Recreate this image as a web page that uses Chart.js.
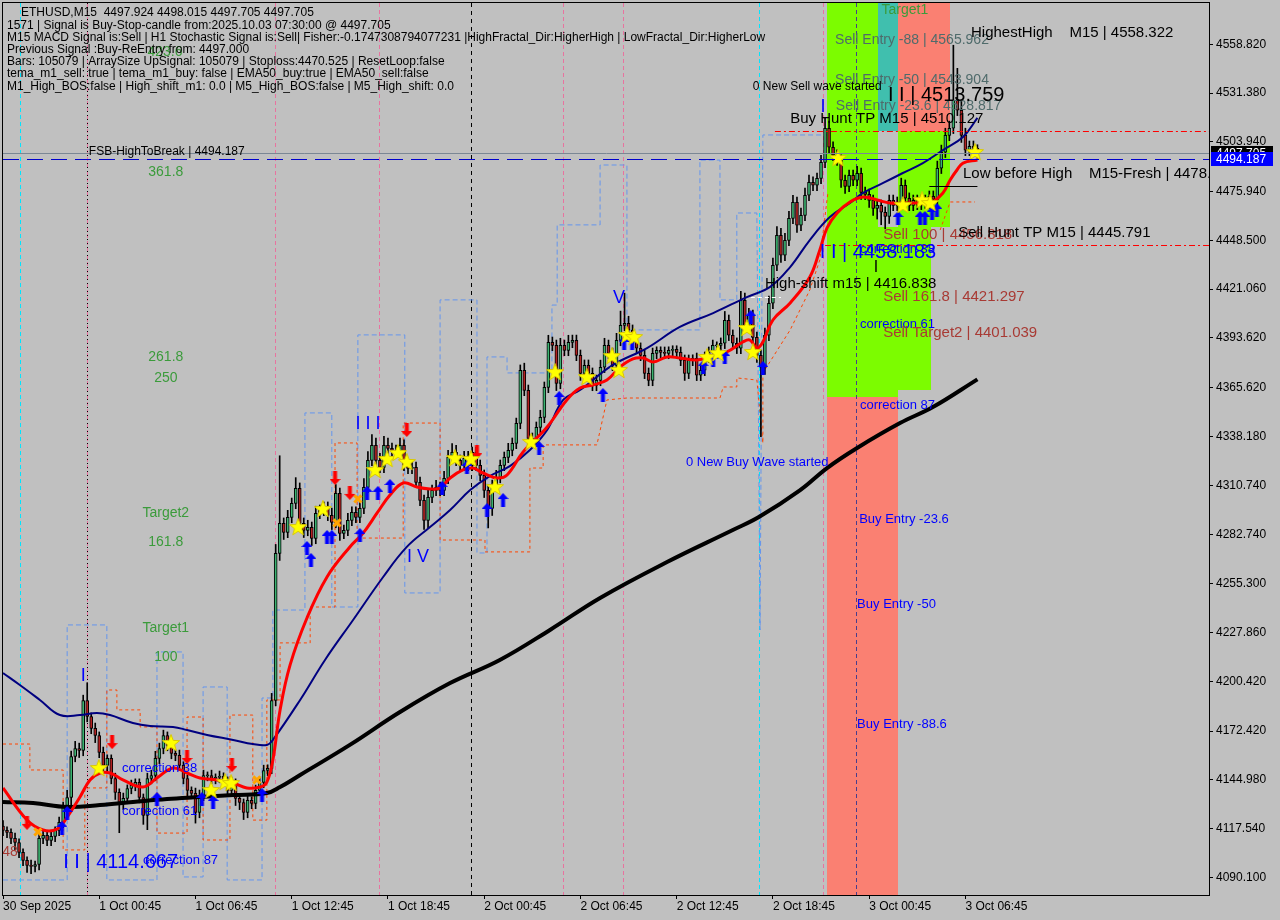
<!DOCTYPE html>
<html>
<head>
<meta charset="utf-8">
<title>ETHUSD,M15</title>
<script src="https://cdn.jsdelivr.net/npm/chart.js@4.4.1/dist/chart.umd.min.js"></script>
<style>
  html, body { margin: 0; padding: 0; background: #c0c0c0; }
  #wrap { width: 1280px; height: 920px; }
</style>
</head>
<body>
<div id="wrap"><canvas id="chart" width="1280" height="920"></canvas></div>
<script>
// ETHUSD M15 candles, index 0 = 30 Sep 18:45, one bar per 15 minutes
const firstOpen = 4119.0;
const closes = [
  4116.5, 4115.4, 4112.0, 4109.7, 4104.1, 4099.6, 4096.8, 4096.2, 4097.3, 4112.0,
  4113.7, 4110.9, 4113.1, 4116.5, 4121.0, 4130.5, 4135.0, 4158.1, 4162.6, 4161.5,
  4189.6, 4180.6, 4173.9, 4169.9, 4160.4, 4153.1, 4157.0, 4145.7, 4137.9, 4132.2,
  4134.5, 4140.1, 4141.8, 4143.5, 4135.0, 4124.9, 4145.7, 4147.4, 4157.0, 4162.6,
  4169.9, 4164.3, 4159.8, 4158.7, 4153.1, 4145.7, 4139.0, 4137.3, 4126.6, 4136.2,
  4147.4, 4147.4, 4145.7, 4146.3, 4146.9, 4144.6, 4139.0, 4143.5, 4134.5, 4132.2,
  4126.6, 4133.4, 4131.7, 4139.0, 4143.5, 4150.2, 4151.4, 4189.6, 4272.4, 4289.3,
  4284.2, 4292.6, 4300.5, 4309.0, 4289.3, 4285.3, 4287.0, 4280.8, 4294.9, 4296.6,
  4298.3, 4293.8, 4289.8, 4306.1, 4283.6, 4285.3, 4290.9, 4295.5, 4292.6, 4297.7,
  4309.5, 4324.7, 4333.2, 4324.7, 4320.8, 4333.2, 4331.5, 4330.3, 4329.2, 4333.2,
  4321.9, 4320.2, 4320.8, 4312.3, 4302.2, 4290.9, 4303.9, 4307.8, 4309.5, 4307.8,
  4314.6, 4326.4, 4329.2, 4324.7, 4321.9, 4325.8, 4321.9, 4329.2, 4321.9, 4316.3,
  4307.8, 4297.7, 4310.6, 4315.1, 4321.9, 4326.4, 4330.3, 4334.3, 4345.5, 4375.4,
  4364.1, 4337.1, 4336.0, 4343.3, 4348.9, 4365.8, 4391.1, 4389.4, 4368.0, 4389.4,
  4386.6, 4391.1, 4392.2, 4383.8, 4373.7, 4378.2, 4373.7, 4366.9, 4369.7, 4377.1,
  4389.4, 4384.9, 4378.2, 4392.2, 4400.7, 4401.8, 4397.9, 4391.1, 4387.8, 4383.8,
  4373.7, 4369.7, 4384.9, 4386.6, 4385.5, 4384.9, 4386.6, 4387.2, 4385.5, 4381.0,
  4373.7, 4381.0, 4382.1, 4372.6, 4375.4, 4382.7, 4385.5, 4389.4, 4389.4, 4390.6,
  4403.5, 4395.1, 4390.6, 4387.8, 4414.8, 4400.7, 4406.3, 4393.9, 4383.8, 4377.1,
  4395.1, 4413.1, 4434.5, 4451.3, 4440.1, 4448.5, 4460.9, 4469.9, 4457.0, 4462.6,
  4473.9, 4481.2, 4479.5, 4483.4, 4492.4, 4511.6, 4500.9, 4496.4, 4493.6, 4482.3,
  4478.9, 4485.1, 4482.3, 4486.2, 4475.5, 4474.4, 4471.0, 4466.5, 4468.2, 4464.3,
  4462.0, 4471.0, 4468.2, 4469.9, 4479.5, 4472.2, 4468.2, 4471.0, 4468.8, 4471.0,
  4469.4, 4473.3, 4471.6, 4489.1, 4498.1, 4507.6, 4511.6, 4527.3, 4521.7, 4507.6,
  4499.2, 4501.4, 4500.3, 4497.705
];
// wick length above / below the body, in price units
const upperWick = [
  3,2,2,3,2,2,2,3,2,3, 3,2,3,2,3,2,4,3,4,3, 3,10,2,3,2,3,2,2,3,2, 3,2,3,2,2,2,3,3,4,3,
  3,2,2,2,3,2,2,2,3,3, 3,2,3,2,3,2,2,3,2,2, 2,3,2,3,3,3,2,4,5,38, 3,4,3,6,3,3,4,3,4,3,
  3,3,4,5,3,3,4,3,3,4, 5,5,6,4,4,5,4,3,3,4, 3,3,4,3,3,3,4,3,4,3, 4,4,5,4,3,4,4,3,3,3,
  3,3,3,4,3,3,4,3,3,3, 4,3,3,3,4,3,4,3,3,4, 3,4,3,3,3,3,3,3,3,4, 4,3,3,4,8,17,4,3,3,3,
  3,3,3,2,2,3,2,2,2,3, 3,3,2,3,3,3,3,3,2,3, 5,3,3,3,5,4,4,3,3,3, 4,4,4,5,4,4,4,4,3,4,
  4,4,3,3,4,6,4,3,3,3, 3,3,3,4,3,3,3,3,3,3, 3,3,3,3,4,3,3,3,3,3, 3,3,3,4,4,4,4,31,18,5,
  4,3,3,2
];
const lowerWick = [
  3,3,3,4,3,3,4,4,3,3, 3,3,3,3,3,3,3,4,3,4, 3,3,3,4,3,4,3,3,4,17, 4,3,3,3,3,5,8,3,3,3,
  3,3,3,3,3,3,4,3,6,3, 3,3,3,3,3,3,3,3,4,4, 4,3,3,3,3,3,3,3,3,4, 4,3,3,3,4,4,3,4,3,3,
  3,3,4,3,4,3,3,3,3,3, 3,3,3,3,3,3,3,3,3,3, 3,3,3,3,3,5,4,3,3,3, 3,3,3,3,3,3,3,3,3,3,
  4,11,4,3,3,3,3,3,3,3, 3,4,3,3,3,3,3,3,4,3, 3,3,3,3,4,3,3,3,3,3, 3,3,3,3,3,3,3,3,3,3,
  3,3,3,3,3,3,3,3,3,3, 4,3,3,3,3,3,3,3,3,3, 3,3,3,3,3,3,3,3,4,39, 4,3,3,3,4,3,3,3,4,3,
  3,3,3,3,3,3,3,3,3,4, 4,3,3,3,4,3,4,4,6,7, 7,4,3,3,3,4,3,3,3,3, 3,3,3,3,3,3,3,3,3,4,
  3,3,3,3
];

const timeTicks = [0, 24, 48, 72, 96, 120, 144, 168, 192, 216, 240];
const timeLabels = ['30 Sep 2025', '1 Oct 00:45', '1 Oct 06:45', '1 Oct 12:45', '1 Oct 18:45',
  '2 Oct 00:45', '2 Oct 06:45', '2 Oct 12:45', '2 Oct 18:45', '3 Oct 00:45', '3 Oct 06:45'];
const priceTicks = [4558.820, 4531.380, 4503.940, 4475.940, 4448.500, 4421.060, 4393.620, 4365.620,
  4338.180, 4310.740, 4282.740, 4255.300, 4227.860, 4200.420, 4172.420, 4144.980, 4117.540, 4090.100];

// indicator lines, [bar index, price]
const fastMa = [
  [0,4140.4],[6.0,4122.3],[10.0,4116.7],[13.5,4117.3],[16.0,4124.0],[19.2,4135.3],[21.7,4144.9],
  [24.2,4148.8],[26.7,4148.8],[29.9,4144.9],[34.9,4140.9],[38.4,4146.0],[42.4,4151.6],[45.9,4148.8],
  [49.1,4146.0],[53.4,4144.9],[57.4,4143.2],[60.8,4140.4],[64.1,4140.9],[65.8,4143.7],[67.3,4156.1],
  [69.1,4184.3],[71.6,4209.6],[75.8,4236.0],[80.8,4259.1],[86.5,4276.0],[89.8,4283.8],[93.3,4295.1],
  [96.5,4305.2],[99.8,4312.0],[103.2,4309.7],[106.5,4308.6],[109.0,4309.2],[111.5,4314.8],[114.7,4319.3],
  [117.2,4320.4],[119.7,4317.6],[123.2,4314.8],[125.7,4316.5],[129.7,4329.4],[135.7,4343.5],[140.6,4358.7],
  [143.9,4365.4],[147.1,4367.1],[150.6,4369.9],[153.9,4377.3],[157.1,4381.8],[159.6,4382.3],[162.1,4380.1],
  [165.6,4382.9],[168.8,4382.3],[173.1,4381.2],[177.1,4384.0],[180.5,4385.7],[184.5,4391.3],[186.3,4392.4],
  [188.0,4387.9],[189.5,4391.3],[192.0,4403.7],[196.3,4413.3],[201.2,4427.9],[203.7,4443.1],[205.5,4455.5],
  [208.0,4463.9],[211.2,4470.1],[214.5,4472.9],[218.0,4471.2],[221.2,4469.5],[224.4,4469.5],[227.9,4469.5],
  [231.2,4469.5],[234.4,4475.2],[236.2,4482.5],[237.9,4488.1],[239.4,4492.0],[243.0,4493.7]
];
const ema50 = [
  [0,4205.1],[4.2,4198.3],[9.2,4189.9],[14.2,4181.4],[19.2,4181.4],[23.4,4182.6],[26.7,4181.4],
  [32.4,4176.9],[36.7,4175.2],[42.4,4174.7],[45.9,4173.0],[50.9,4170.2],[57.4,4167.4],[62.3,4165.1],
  [65.8,4164.6],[67.3,4167.4],[74.1,4189.9],[80.3,4212.4],[87.3,4234.9],[94.8,4259.1],[100.7,4276.0],
  [106.5,4287.2],[111.5,4296.8],[116.5,4308.0],[121.4,4315.9],[126.4,4321.5],[131.4,4330.5],[135.7,4341.8],
  [139.7,4358.7],[143.9,4364.3],[152.1,4378.4],[160.6,4387.9],[168.8,4399.8],[177.1,4407.6],[185.5,4416.6],
  [191.3,4422.3],[196.3,4433.5],[201.2,4448.7],[206.2,4461.6],[211.2,4469.5],[214.5,4475.2],[219.5,4480.8],
  [224.4,4486.4],[229.4,4492.0],[234.4,4499.3],[239.4,4506.7],[243.0,4517.4]
];
const ema200 = [
  [0,4132.5],[7.5,4131.9],[16.0,4129.7],[24.2,4130.8],[32.4,4132.5],[40.9,4134.2],[49.1,4135.3],
  [57.4,4136.4],[65.8,4137.5],[69.1,4140.9],[74.1,4147.7],[86.5,4164.6],[99.0,4183.1],[111.5,4199.4],
  [123.9,4212.4],[136.4,4229.3],[148.9,4247.3],[165.6,4267.5],[182.0,4285.5],[188.5,4292.8],[198.8,4308.0],
  [205.5,4320.4],[213.0,4331.7],[223.7,4345.7],[231.9,4354.7],[243.0,4370.3]
];
const lowBand = [
  [0,4165.1],[6.7,4165.1],[6.7,4150.5],[15.0,4150.5],[15.0,4105.5],[20.4,4105.5],[20.4,4140.4],[25.9,4140.4],
  [25.9,4195.5],[28.4,4195.5],[28.4,4184.3],[34.2,4184.3],[34.2,4174.7],[38.4,4174.7],[38.4,4115.0],[45.9,4115.0],
  [45.9,4180.3],[49.9,4180.3],[49.9,4111.1],[56.6,4111.1],[56.6,4181.4],[62.3,4181.4],[62.3,4122.3],[65.8,4122.3],
  [65.8,4189.9],[69.1,4189.9],[69.1,4222.0],[76.6,4222.0],[76.6,4242.2],[82.8,4242.2],[82.8,4334.5],[88.3,4334.5],
  [88.3,4281.0],[99.8,4281.0],[99.8,4345.7],[109.0,4345.7],[109.0,4279.9],[120.2,4279.9],[120.2,4273.2],[131.4,4273.2],
  [131.4,4320.4],[134.7,4320.4],[134.7,4333.4],[148.1,4333.4],[150.6,4358.7],[155.6,4359.8],[178.8,4359.8],[179.6,4366.0],
  [183.0,4366.0],[183.0,4371.1],[188.0,4369.9],[189.5,4334.5],[189.5,4373.9],[196.3,4398.1],[201.2,4420.6],[203.7,4437.5],
  [205.7,4475.2],null,[233.7,4454.3],[236.2,4470.1],[242.4,4470.1]
];
const highBand = [
  [0,4088.6],[16.0,4088.6],[16.0,4232.1],[25.9,4232.1],[25.9,4088.6],[38.4,4088.6],[38.4,4216.9],[44.9,4216.9],
  [44.9,4090.3],[49.9,4090.3],[49.9,4197.2],[55.9,4197.2],[55.9,4088.6],[64.6,4088.6],[64.6,4191.0],[67.3,4191.0],
  [67.3,4240.5],[75.3,4240.5],[75.3,4351.4],[82.0,4351.4],[82.0,4242.2],[88.5,4242.2],[88.5,4395.3],[100.2,4395.3],
  [100.2,4250.1],[109.0,4250.1],[109.0,4415.0],[118.2,4415.0],[118.2,4272.6],[120.7,4272.6],[120.7,4382.9],[125.7,4382.9],
  [125.7,4373.9],[136.9,4373.9],[136.9,4412.1],[138.2,4412.1],[138.2,4457.2],[148.9,4457.2],[148.9,4490.9],[155.6,4490.9],
  [155.6,4398.1],[173.8,4398.1],[173.8,4493.7],[178.8,4493.7],[178.8,4415.0],[183.0,4415.0],[183.0,4463.9],[188.0,4463.9],
  [188.8,4229.3],[189.5,4507.8],[205.5,4507.8]
];

// signal markers, [bar index, price]
const starPoints = [
  [23.9,4151.6],[41.9,4165.7],[51.9,4139.2],[55.4,4143.7],[56.9,4143.2],[73.6,4287.2],[79.8,4297.4],
  [92.8,4319.3],[95.8,4325.5],[98.5,4328.9],[100.7,4323.8],[112.7,4326.0],[116.7,4325.5],[122.7,4309.7],
  [131.7,4335.1],[137.7,4374.4],[145.6,4371.6],[151.9,4383.4],[153.6,4375.6],[155.6,4395.3],[157.4,4394.1],
  [175.6,4382.9],[178.3,4385.1],[185.5,4399.2],[187.0,4385.7],[208.2,4494.8],[224.4,4468.4],[229.2,4471.2],
  [231.2,4469.5],[242.4,4498.2]
];
const buyArrows = [
  [14.7,4117.9],[16.0,4126.3],[38.4,4134.2],[49.6,4134.2],[52.4,4132.5],[64.6,4136.4],[75.8,4275.4],
  [76.8,4268.7],[80.8,4281.6],[82.0,4281.6],[89.0,4282.7],[90.8,4306.4],[93.5,4306.4],[96.5,4310.3],
  [109.5,4309.2],[115.7,4321.0],[120.7,4296.8],[124.7,4302.4],[133.7,4331.7],[138.7,4359.8],[149.6,4361.5],
  [154.9,4390.8],[156.9,4390.8],[174.6,4377.3],[177.1,4381.2],[180.0,4382.9],[186.5,4405.4],[189.5,4376.7],
  [223.2,4461.1],[228.7,4461.1],[229.9,4461.1],[231.7,4463.9],[232.9,4465.6]
];
const sellArrows = [
  [6.0,4120.7],[27.2,4166.2],[45.9,4157.8],[57.1,4153.3],[82.8,4314.8],[86.5,4306.4],[100.7,4341.8],[118.2,4329.4]
];
const crossPoints = [[8.7,4115.6],[63.3,4144.9],[83.3,4289.5],[88.5,4303.0]];

// zones: from bar, to bar, top price, bottom price
const zones = [
  [205.5, 218.2, 4600, 4360.4, '#7cfc00'],
  [218.2, 223.2, 4600, 4510.1, '#40bfae'],
  [223.2, 236.2, 4600, 4510.1, '#fa8072'],
  [223.2, 236.2, 4510.1, 4456.3, '#7cfc00'],
  [218.2, 231.4, 4456.3, 4364.3, '#7cfc00'],
  [218.2, 223.2, 4364.3, 4360.4, '#7cfc00'],
  [205.5, 223.2, 4360.4, 4000, '#fa8072']
];
const vLines = [
  [4.2, '#00e5ff', [4, 3]], [20.9, '#e8739f', [4, 3]], [20.9, '#000000', [1, 3]], [67.8, '#e8739f', [4, 3]],
  [93.8, '#e8739f', [4, 3]], [116.7, '#000000', [4, 4]], [139.7, '#e8739f', [4, 3]], [154.6, '#e8739f', [4, 3]],
  [188.5, '#00e5ff', [4, 3]], [204.5, '#e8739f', [4, 3]], [212.7, '#483d8b', [4, 3]]
];
// price, from bar, to bar, colour, dash
const hLines = [
  [4497.705, 0, 301, '#7b8794', []],
  [4494.187, 0, 301, '#0000cd', [16, 8]],
  [4510.127, 192.5, 301, '#ff0000', [6, 3, 2, 3]],
  [4445.791, 205, 301, '#ff0000', [6, 3, 2, 3]],
  [4416.838, 186.5, 194, '#ffffff', [4, 3]],
  [4479.1, 231, 243, '#000000', []]
];

const GREEN = '#3b9b3b', BLUE = '#0000ff', BROWN = '#a83a34', SLATE = '#4f6b6b', BLACK = '#000000';
// text, bar, price, colour, size, align
const chartTexts = [
  ['423.6', 40.4, 4554.5, GREEN, 14, 'center'],
  ['361.8', 40.6, 4487.0, GREEN, 14, 'center'],
  ['261.8', 40.6, 4382.9, GREEN, 14, 'center'],
  ['250', 40.6, 4371.1, GREEN, 14, 'center'],
  ['Target2', 40.6, 4295.1, GREEN, 14, 'center'],
  ['161.8', 40.6, 4278.8, GREEN, 14, 'center'],
  ['Target1', 40.6, 4230.4, GREEN, 14, 'center'],
  ['100', 40.6, 4214.1, GREEN, 14, 'center'],
  ['Target1', 224.9, 4578.1, GREEN, 14, 'center'],
  ['FSB-HighToBreak | 4494.187', 21.4, 4498.2, BLACK, 12, 'left'],
  ['Sell Entry -88 | 4565.962', 207.5, 4561.2, SLATE, 14, 'left'],
  ['Sell Entry -50 | 4543.904', 207.5, 4538.7, SLATE, 14, 'left'],
  ['Sell Entry -23.6 | 4528.817', 207.7, 4524.1, SLATE, 14, 'left'],
  ['HighestHigh    M15 | 4558.322', 241.4, 4565.2, BLACK, 15, 'left'],
  ['0 New Sell wave started', 187.0, 4534.8, BLACK, 12, 'left'],
  ['I I | 4513.759', 220.7, 4530.3, BLACK, 20, 'left'],
  ['Buy Hunt TP M15 | 4510.127', 196.3, 4516.8, BLACK, 15, 'left'],
  ['Low before High    M15-Fresh | 4478.917', 239.4, 4485.8, BLACK, 15, 'left'],
  ['Sell 100 | 4456.818', 219.5, 4451.5, BROWN, 15, 'left'],
  ['Sell Hunt TP M15 | 4445.791', 238.2, 4452.6, BLACK, 15, 'left'],
  ['correction 38', 213.7, 4443.6, BLUE, 13, 'left'],
  ['I I | 4458.183', 203.7, 4441.4, BLUE, 20, 'left'],
  ['High-shift m15 | 4416.838', 190.0, 4423.9, BLACK, 15, 'left'],
  ['Sell 161.8 | 4421.297', 219.5, 4416.6, BROWN, 15, 'left'],
  ['correction 61', 213.7, 4401.4, BLUE, 13, 'left'],
  ['Sell Target2 | 4401.039', 219.5, 4396.4, BROWN, 15, 'left'],
  ['correction 87', 213.7, 4355.9, BLUE, 13, 'left'],
  ['0 New Buy Wave started', 170.3, 4323.8, BLUE, 13, 'left'],
  ['Buy Entry -23.6', 213.5, 4291.2, BLUE, 13, 'left'],
  ['Buy Entry -50', 213.0, 4243.9, BLUE, 13, 'left'],
  ['Buy Entry -88.6', 213.0, 4176.4, BLUE, 13, 'left'],
  ['V', 153.6, 4416.1, BLUE, 18, 'center'],
  ['I I I', 91.0, 4345.2, BLUE, 18, 'center'],
  ['I V', 103.5, 4270.3, BLUE, 18, 'center'],
  ['I', 20.0, 4203.4, BLUE, 18, 'center'],
  ['I', 204.5, 4523.5, BLUE, 18, 'center'],
  ['I', 217.7, 4432.9, BLACK, 16, 'center'],
  ['48', -0.2, 4104.3, BROWN, 14, 'left'],
  ['correction 38', 29.7, 4151.6, BLUE, 13, 'left'],
  ['correction 61', 29.7, 4126.9, BLUE, 13, 'left'],
  ['I I | 4114.667', 15.0, 4098.7, BLUE, 20, 'left'],
  ['correction 87', 34.9, 4099.8, BLUE, 13, 'left']
];

const infoLines = [
  'ETHUSD,M15  4497.924 4498.015 4497.705 4497.705',
  '1571 | Signal is Buy-Stop-candle from:2025.10.03 07:30:00 @ 4497.705',
  'M15 MACD Signal is:Sell | H1 Stochastic Signal is:Sell| Fisher:-0.1747308794077231 |HighFractal_Dir:HigherHigh | LowFractal_Dir:HigherLow',
  'Previous Signal :Buy-ReEntry from: 4497.000',
  'Bars: 105079 | ArraySize UpSignal: 105079 | Stoploss:4470.525 | ResetLoop:false',
  'tema_m1_sell: true | tema_m1_buy: false | EMA50_buy:true | EMA50_sell:false',
  'M1_High_BOS:false | High_shift_m1: 0.0 | M5_High_BOS:false | M5_High_shift: 0.0'
];

const FONT = '"Liberation Sans", Arial, sans-serif';
Chart.defaults.font.family = FONT;

const opens = closes.map((c, i) => (i === 0 ? firstOpen : closes[i - 1]));
const highs = closes.map((c, i) => Math.max(opens[i], c) + upperWick[i]);
const lows = closes.map((c, i) => Math.min(opens[i], c) - lowerWick[i]);

function pts(list) {
  return list.map(p => (p ? { x: p[0], y: p[1] } : { x: NaN, y: null }));
}

function makeStar() {
  const c = document.createElement('canvas');
  c.width = 18; c.height = 18;
  const g = c.getContext('2d');
  g.fillStyle = '#ffff00';
  g.strokeStyle = '#d8c800';
  g.beginPath();
  for (let k = 0; k < 10; k++) {
    const r = k % 2 === 0 ? 9 : 3.8;
    const a = -Math.PI / 2 + k * Math.PI / 5;
    const px = 9 + r * Math.cos(a), py = 9.5 + r * Math.sin(a);
    if (k === 0) g.moveTo(px, py); else g.lineTo(px, py);
  }
  g.closePath();
  g.fill();
  g.stroke();
  return c;
}

function makeArrow(color, up) {
  const c = document.createElement('canvas');
  c.width = 11; c.height = 14;
  const g = c.getContext('2d');
  g.fillStyle = color;
  g.beginPath();
  const shape = [[5.5, 0], [11, 6], [7.5, 6], [7.5, 14], [3.5, 14], [3.5, 6], [0, 6]];
  shape.forEach(([px, py], k) => {
    const yy = up ? py : 14 - py;
    if (k === 0) g.moveTo(px, yy); else g.lineTo(px, yy);
  });
  g.closePath();
  g.fill();
  return c;
}

const mtOverlay = {
  id: 'mtOverlay',
  beforeDraw(chart) {
    const ctx = chart.ctx;
    ctx.save();
    ctx.fillStyle = '#c0c0c0';
    ctx.fillRect(0, 0, chart.width, chart.height);
    ctx.restore();
  },
  beforeDatasetsDraw(chart) {
    const { ctx, chartArea: a, scales: { x, y } } = chart;
    ctx.save();
    ctx.beginPath();
    ctx.rect(a.left, a.top, a.right - a.left, a.bottom - a.top);
    ctx.clip();
    zones.forEach(([i0, i1, top, bottom, color]) => {
      const x0 = Math.round(x.getPixelForValue(i0)), x1 = Math.round(x.getPixelForValue(i1));
      const y0 = Math.round(y.getPixelForValue(top)), y1 = Math.round(y.getPixelForValue(bottom));
      ctx.fillStyle = color;
      ctx.fillRect(x0, y0, x1 - x0, y1 - y0);
    });
    ctx.lineWidth = 1;
    vLines.forEach(([i, color, dash]) => {
      const px = Math.round(x.getPixelForValue(i)) + 0.5;
      ctx.strokeStyle = color;
      ctx.setLineDash(dash);
      ctx.beginPath();
      ctx.moveTo(px, a.top);
      ctx.lineTo(px, a.bottom);
      ctx.stroke();
    });
    ctx.restore();
  },
  afterDatasetsDraw(chart) {
    const { ctx, chartArea: a, scales: { x, y } } = chart;
    ctx.save();
    ctx.beginPath();
    ctx.rect(a.left, a.top, a.right - a.left, a.bottom - a.top);
    ctx.clip();
    ctx.lineWidth = 1;
    hLines.forEach(([p, i0, i1, color, dash]) => {
      const py = Math.round(y.getPixelForValue(p)) + 0.5;
      ctx.strokeStyle = color;
      ctx.setLineDash(dash);
      ctx.beginPath();
      ctx.moveTo(x.getPixelForValue(i0), py);
      ctx.lineTo(x.getPixelForValue(i1), py);
      ctx.stroke();
    });
    ctx.setLineDash([]);
    ctx.textBaseline = 'middle';
    chartTexts.forEach(([text, i, p, color, size, align]) => {
      ctx.font = size + 'px ' + FONT;
      ctx.fillStyle = color;
      ctx.textAlign = align;
      ctx.fillText(text, x.getPixelForValue(i), y.getPixelForValue(p));
    });
    // comment block in the top-left corner
    ctx.font = '12px ' + FONT;
    ctx.fillStyle = BLACK;
    ctx.textAlign = 'left';
    infoLines.forEach((line, k) => {
      ctx.fillText(line, a.left + (k === 0 ? 18 : 4), a.top + 10 + k * 12.2);
    });
    ctx.restore();

    ctx.save();
    ctx.strokeStyle = '#000';
    ctx.lineWidth = 1;
    ctx.strokeRect(a.left - 0.5, a.top - 0.5, a.right - a.left + 1, a.bottom - a.top + 1);
    ctx.restore();
  },
  afterDraw(chart) {
    const { ctx, chartArea: a, scales: { y } } = chart;
    const tags = [[4497.705, '#000000'], [4494.187, '#0000ff']];
    ctx.save();
    ctx.font = '12px ' + FONT;
    ctx.textBaseline = 'middle';
    ctx.textAlign = 'left';
    tags.forEach(([p, color]) => {
      const py = Math.round(y.getPixelForValue(p));
      ctx.fillStyle = color;
      ctx.fillRect(a.right + 2, py - 7, 62, 14);
      ctx.fillStyle = '#ffffff';
      ctx.fillText(p.toFixed(3), a.right + 7, py + 0.5);
    });
    ctx.restore();
  }
};

const starImg = makeStar();
const upImg = makeArrow('#0000ff', true);
const downImg = makeArrow('#ff0000', false);

const chart = new Chart(document.getElementById('chart'), {
  type: 'bar',
  data: {
    datasets: [
      {
        type: 'line', data: pts(starPoints), showLine: false, pointStyle: starImg, pointRadius: 8, order: 0
      },
      {
        type: 'line', data: pts(buyArrows), showLine: false, pointStyle: upImg, pointRadius: 7, order: 0
      },
      {
        type: 'line', data: pts(sellArrows), showLine: false, pointStyle: downImg, pointRadius: 7, order: 0
      },
      {
        type: 'line', data: pts(crossPoints), showLine: false, pointStyle: 'crossRot', pointRadius: 5,
        pointBorderColor: '#ffa500', pointBorderWidth: 3, order: 0
      },
      {
        type: 'line', data: pts(fastMa), borderColor: '#ff0000', borderWidth: 3, pointRadius: 0,
        tension: 0.4, order: 1
      },
      {
        type: 'line', data: pts(ema50), borderColor: '#000080', borderWidth: 2, pointRadius: 0,
        tension: 0.4, order: 2
      },
      {
        type: 'line', data: pts(ema200), borderColor: '#000000', borderWidth: 4, pointRadius: 0,
        tension: 0.4, order: 3
      },
      {
        type: 'bar', data: closes.map((c, i) => {
          const o = opens[i];
          return { x: i, y: Math.abs(c - o) < 0.4 ? [o - 0.3, o + 0.3] : [o, c] };
        }),
        backgroundColor: closes.map((c, i) => (c >= opens[i] ? '#3cb371' : '#b22222')),
        borderColor: '#000000', borderWidth: 1, borderSkipped: false,
        barThickness: 3, grouped: false, order: 5
      },
      {
        type: 'bar', data: closes.map((c, i) => ({ x: i, y: [lows[i], highs[i]] })),
        backgroundColor: '#000000', barThickness: 1, grouped: false, order: 6
      },
      {
        type: 'line', data: pts(lowBand), borderColor: '#ff4500', borderWidth: 1, borderDash: [3, 3],
        pointRadius: 0, tension: 0, spanGaps: false, order: 7
      },
      {
        type: 'line', data: pts(highBand), borderColor: '#6495ed', borderWidth: 1, borderDash: [5, 3],
        pointRadius: 0, tension: 0, spanGaps: false, order: 8
      }
    ]
  },
  options: {
    responsive: false,
    animation: false,
    devicePixelRatio: 1,
    layout: { autoPadding: false, padding: { left: 3, top: 3, right: 0, bottom: 0 } },
    plugins: { legend: { display: false }, tooltip: { enabled: false } },
    events: [],
    scales: {
      x: {
        type: 'linear', min: 0, max: 300.75, offset: false,
        afterBuildTicks: s => { s.ticks = timeTicks.map(v => ({ value: v })); },
        afterFit: s => { s.height = 25; s.paddingLeft = 0; s.paddingRight = 0; },
        ticks: {
          autoSkip: false, maxRotation: 0, align: 'start', padding: 0, color: '#000',
          font: { size: 12 },
          callback: v => timeLabels[timeTicks.indexOf(v)] || ''
        },
        grid: { drawOnChartArea: false, drawTicks: true, tickLength: 4, color: '#000', offset: false },
        border: { display: false }
      },
      y: {
        type: 'linear', position: 'right', min: 4080.15, max: 4582.06,
        afterBuildTicks: s => { s.ticks = priceTicks.map(v => ({ value: v })); },
        afterFit: s => { s.width = 71; s.paddingTop = 0; s.paddingBottom = 0; },
        ticks: {
          padding: 3, color: '#000', font: { size: 12 },
          callback: v => Number(v).toFixed(3)
        },
        grid: { drawOnChartArea: false, drawTicks: true, tickLength: 4, color: '#000' },
        border: { display: false }
      }
    }
  },
  plugins: [mtOverlay]
});
</script>
</body>
</html>
